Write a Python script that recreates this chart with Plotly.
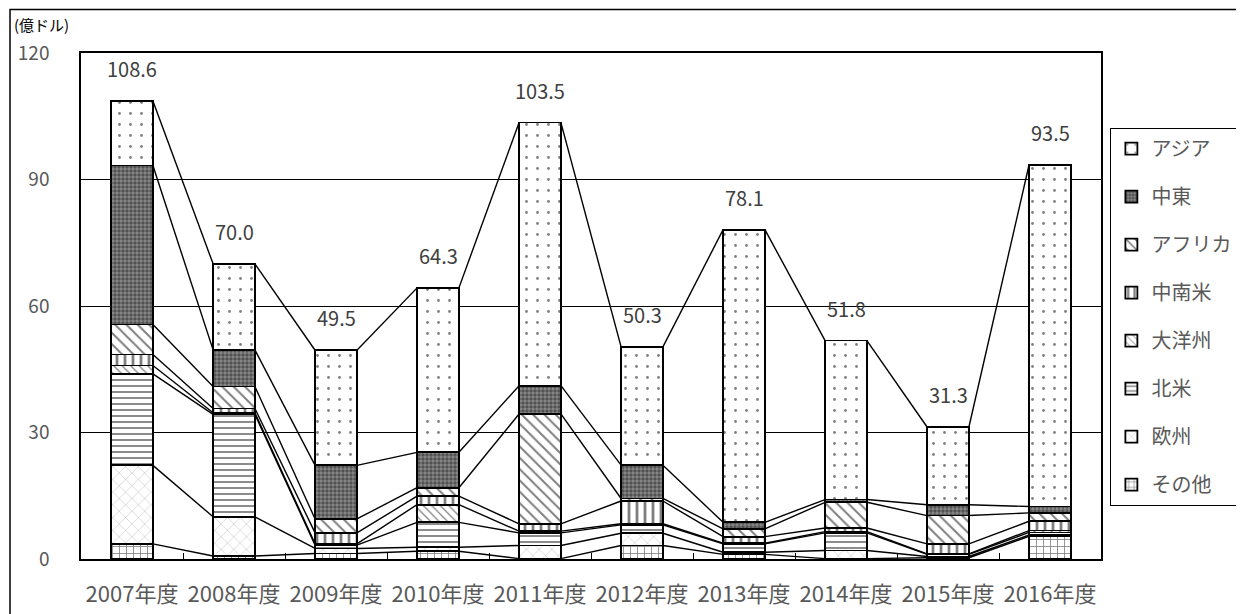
import plotly.graph_objects as go

# ---- data ----
years = ["2007年度", "2008年度", "2009年度", "2010年度", "2011年度",
         "2012年度", "2013年度", "2014年度", "2015年度", "2016年度"]
totals = [108.6, 70.0, 49.5, 64.3, 103.5, 50.3, 78.1, 51.8, 31.3, 93.5]

sonota   = [3.6, 0.7, 1.3, 1.85, 0.1, 3.2, 1.1, 0.1, 0.3, 5.4]    # その他
oushu    = [18.6, 9.3, 1.2, 0.95, 3.1, 2.9, 0.5, 1.9, 0.3, 0.3]   # 欧州
hokubei  = [21.7, 24.3, 0.8, 5.9, 3.0, 2.0, 2.0, 4.2, 0.5, 0.6]   # 北米
taiyou   = [2.0, 0.4, 0.3, 4.2, 0.4, 0.25, 0.15, 0.3, 0.1, 0.45]  # 大洋州
chunanbei = [2.6, 1.0, 2.6, 2.0, 1.75, 5.4, 1.55, 0.85, 2.4, 2.2] # 中南米
africa   = [7.1, 5.2, 3.3, 2.0, 26.05, 0.6, 1.85, 6.1, 6.7, 2.0] # アフリカ
chuto    = [37.7, 8.7, 12.7, 8.4, 6.7, 7.9, 1.55, 0.65, 2.55, 1.5] # 中東
asia     = [15.3, 20.4, 27.3, 39.0, 62.4, 28.05, 69.4, 37.7, 18.45, 81.05]  # アジア

y_ticks = [0, 30, 60, 90, 120]

# ---- style ----
series = [
    ("その他", sonota,   dict(shape="+", size=7, solidity=0.22, fgcolor="black", bgcolor="white")),
    ("欧州",   oushu,    dict(shape="x", size=9, solidity=0.06, fgcolor="black", bgcolor="white")),
    ("北米",   hokubei,  dict(shape="-", size=6, solidity=0.3, fgcolor="black", bgcolor="white")),
    ("大洋州", taiyou,   dict(shape="\\", size=6, solidity=0.2, fgcolor="black", bgcolor="white")),
    ("中南米", chunanbei, dict(shape="|", size=8, solidity=0.35, fgcolor="black", bgcolor="white")),
    ("アフリカ", africa, dict(shape="\\", size=8, solidity=0.25, fgcolor="black", bgcolor="white")),
    ("中東",   chuto,    dict(shape=".", size=4, solidity=0.6, fgcolor="#1a1a1a", bgcolor="#8a8a8a")),
    ("アジア", asia,     dict(shape=".", size=11, solidity=0.05, fgcolor="black", bgcolor="white")),
]

FONT = "Noto Sans CJK JP"
GRAY = "#595959"
W = 0.41
xs = list(range(len(years)))

fig = go.Figure()
n = len(series)
for k, (name, vals, pat) in enumerate(series):
    fig.add_trace(go.Bar(
        x=xs, y=vals, name=name, width=W,
        marker=dict(color="white", pattern=pat, line=dict(color="black", width=1.8)),
        legendgroup=name, legendrank=n - k,
    ))

# series lines connecting segment tops between bars
cum = [0.0] * len(years)
for name, vals, pat in series:
    cum = [c + v for c, v in zip(cum, vals)]
    lx, ly = [], []
    for i in range(len(years) - 1):
        lx += [i + W / 2, i + 1 - W / 2, None]
        ly += [cum[i], cum[i + 1], None]
    fig.add_trace(go.Scatter(x=lx, y=ly, mode="lines", showlegend=False,
                             line=dict(color="black", width=1.4), hoverinfo="skip"))

# total labels
for i, t in enumerate(totals):
    fig.add_annotation(x=i, y=t, text=f"{t:.1f}", showarrow=False,
                       yanchor="bottom", yshift=16,
                       font=dict(family=FONT, size=20, color="#404040"))

fig.add_annotation(xref="paper", yref="paper", x=-0.0676, y=1.081,
                   text="(億ドル)", showarrow=False, xanchor="left", yanchor="top",
                   font=dict(family=FONT, size=15, color="black"))

# outer chart border
fig.add_shape(type="rect", xref="paper", yref="paper",
              x0=-0.0696, x1=1.3, y0=-0.3, y1=1.086,
              line=dict(color="black", width=1.5), fillcolor="rgba(0,0,0,0)")

fig.update_layout(
    width=1236, height=606,
    margin=dict(l=73, r=143, t=45, b=55, autoexpand=False),
    barmode="stack",
    plot_bgcolor="white", paper_bgcolor="white",
    font=dict(family=FONT, color=GRAY),
    showlegend=True,
    legend=dict(x=1.009, y=0.852, xanchor="left", yanchor="top",
                traceorder="grouped", tracegroupgap=19,
                bordercolor="black", borderwidth=1.2, bgcolor="white",
                entrywidth=150, entrywidthmode="pixels",
                font=dict(family=FONT, size=20, color=GRAY)),
    xaxis=dict(range=[-0.5, len(years) - 0.5], tickmode="array", tickvals=xs,
               ticktext=years, ticks="", showgrid=False, zeroline=False,
               showline=True, linecolor="black", linewidth=1.5, mirror=True,
               tickfont=dict(family=FONT, size=22, color=GRAY),
               ticklabelstandoff=15,
               minor=dict(tickvals=[i + 0.5 for i in range(len(years) - 1)],
                          ticks="inside", ticklen=6, tickcolor="black", tickwidth=1)),
    yaxis=dict(range=[0, 120], tickmode="array", tickvals=y_ticks,
               showgrid=True, gridcolor="black", gridwidth=1.2, zeroline=False,
               showline=True, linecolor="black", linewidth=1.5, mirror=True,
               ticks="", ticklabelstandoff=26,
               tickfont=dict(family=FONT, size=19, color=GRAY)),
)

fig.write_html("out.html")
